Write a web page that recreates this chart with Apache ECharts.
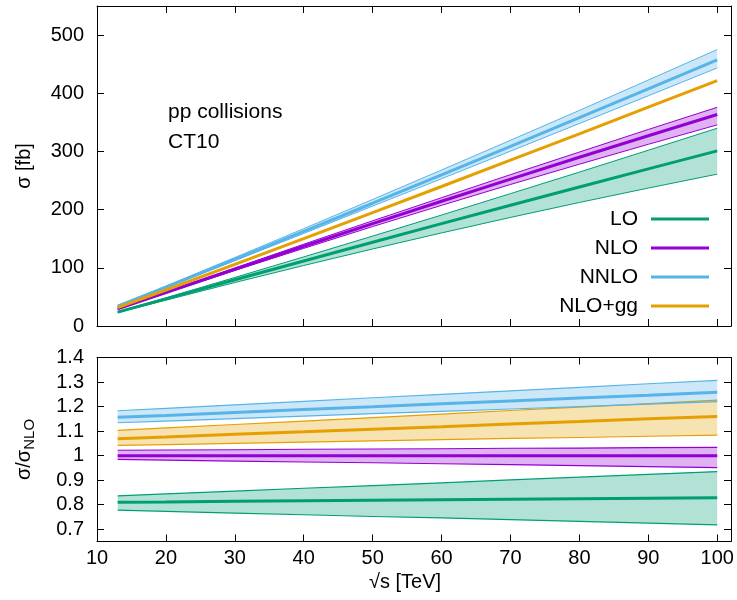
<!DOCTYPE html>
<html><head><meta charset="utf-8">
<script src="https://cdn.jsdelivr.net/npm/echarts@6/dist/echarts.min.js"></script>
<style>html,body{margin:0;padding:0;background:#fff}#c{width:737px;height:600px}</style>
</head><body><div id="c"></div>
<script>
// ---- data ----
const energies = [13, 20, 30, 40, 50, 60, 70, 80, 90, 100];
const xTicks = [10, 20, 30, 40, 50, 60, 70, 80, 90, 100];
const xsecTicks = [0, 100, 200, 300, 400, 500];
const ratioTicks = [0.7, 0.8, 0.9, 1, 1.1, 1.2, 1.3, 1.4];
const seriesNames = ['LO', 'NLO', 'NNLO', 'NLO+gg'];

// cross sections [fb]
const loXsec     = [23.9, 46.6, 79.4, 111.8, 144.0, 175.9, 207.6, 239.0, 270.1, 301.0];
const loXsecUp   = [24.7, 48.5, 83.4, 118.8, 154.5, 190.7, 227.5, 264.5, 302.1, 339.9];
const loXsecDn   = [23.0, 44.4, 74.7, 104.0, 132.4, 160.0, 186.6, 212.3, 237.1, 261.0];
const nloXsec    = [29.5, 57.5, 97.5, 137.0, 176.0, 214.5, 252.5, 290.0, 327.0, 363.5];
const nloXsecUp  = [30.1, 58.8, 99.8, 140.6, 180.8, 220.5, 260.1, 299.0, 337.8, 375.9];
const nloXsecDn  = [29.1, 56.5, 95.4, 133.4, 170.9, 207.4, 243.2, 278.1, 312.3, 345.7];
const nnloXsec   = [34.1, 66.9, 114.7, 162.8, 211.0, 259.8, 308.8, 358.2, 407.4, 457.3];
const nnloXsecUp = [34.9, 68.6, 117.7, 167.3, 217.5, 268.1, 319.2, 370.6, 422.8, 475.1];
const nnloXsecDn = [33.5, 65.6, 112.2, 159.1, 206.1, 253.1, 300.5, 348.0, 395.7, 443.5];
const ggXsec     = [31.5, 61.9, 106.0, 150.3, 195.0, 239.8, 285.1, 330.3, 376.1, 421.7];

// ratios to NLO
const loRatio     = [0.810, 0.811, 0.814, 0.816, 0.818, 0.820, 0.822, 0.824, 0.826, 0.828];
const loRatioUp   = [0.836, 0.844, 0.855, 0.867, 0.878, 0.889, 0.901, 0.912, 0.924, 0.935];
const loRatioDn   = [0.778, 0.773, 0.766, 0.759, 0.752, 0.746, 0.739, 0.732, 0.725, 0.718];
const nloRatio    = [1, 1, 1, 1, 1, 1, 1, 1, 1, 1];
const nloRatioUp  = [1.022, 1.023, 1.024, 1.026, 1.027, 1.028, 1.030, 1.031, 1.033, 1.034];
const nloRatioDn  = [0.985, 0.982, 0.978, 0.974, 0.971, 0.967, 0.963, 0.959, 0.955, 0.951];
const nnloRatio   = [1.156, 1.164, 1.176, 1.188, 1.199, 1.211, 1.223, 1.235, 1.246, 1.258];
const nnloRatioUp = [1.183, 1.193, 1.207, 1.221, 1.236, 1.250, 1.264, 1.278, 1.293, 1.307];
const nnloRatioDn = [1.134, 1.141, 1.151, 1.161, 1.171, 1.180, 1.190, 1.200, 1.210, 1.220];
const ggRatio     = [1.069, 1.076, 1.087, 1.097, 1.108, 1.118, 1.129, 1.139, 1.150, 1.160];
const ggRatioUp   = [1.103, 1.113, 1.127, 1.141, 1.155, 1.169, 1.184, 1.198, 1.212, 1.226];
const ggRatioDn   = [1.042, 1.045, 1.050, 1.055, 1.060, 1.065, 1.070, 1.074, 1.079, 1.084];

// ---- styling ----
const C = { LO: '#009e73', NLO: '#9400d3', NNLO: '#56b4e9', GG: '#e69f00' };
const FONT = '"Liberation Sans", Arial, sans-serif';
function rgba(hex, a) {
  const n = parseInt(hex.slice(1), 16);
  return `rgba(${n >> 16},${(n >> 8) & 255},${n & 255},${a})`;
}
function pairs(vals) { return energies.map((x, i) => [x, vals[i]]); }

function band(xi, yi, lower, upper, color, edgeW) {
  return {
    type: 'custom', xAxisIndex: xi, yAxisIndex: yi, z: 2, silent: true,
    data: [[energies[0], lower[0]]],
    renderItem(params, api) {
      const up = energies.map((x, i) => api.coord([x, upper[i]]));
      const lo = energies.map((x, i) => api.coord([x, lower[i]]));
      return { type: 'group', children: [
        { type: 'polygon', shape: { points: up.concat(lo.slice().reverse()) }, style: { fill: rgba(color, 0.3) } },
        { type: 'polyline', shape: { points: up }, style: { stroke: color, lineWidth: edgeW, fill: null } },
        { type: 'polyline', shape: { points: lo }, style: { stroke: color, lineWidth: edgeW, fill: null } }
      ] };
    }
  };
}
function line(name, xi, yi, vals, color) {
  return {
    type: 'line', name, xAxisIndex: xi, yAxisIndex: yi, z: 3, silent: true,
    data: pairs(vals), showSymbol: false, symbol: 'none', animation: false,
    itemStyle: { color }, lineStyle: { color, width: 3 }
  };
}
function ticks(vals) {
  return { show: true, inside: true, length: 7, customValues: vals, lineStyle: { color: '#000', width: 1 } };
}
function axis(extra) {
  return Object.assign({
    type: 'value',
    axisLine: { show: true, onZero: false, lineStyle: { color: '#000', width: 1 } },
    splitLine: { show: false },
    axisLabel: { show: false }
  }, extra);
}
const labelStyle = { show: true, color: '#000', fontFamily: FONT, fontSize: 20 };
const nameStyle = { color: '#000', fontFamily: FONT, fontSize: 20 };

const option = {
  animation: false,
  backgroundColor: '#fff',
  grid: [
    { left: 97, right: 6, top: 6, height: 320 },
    { left: 97, right: 6, top: 357.5, height: 184 }
  ],
  xAxis: [
    axis({ gridIndex: 0, position: 'bottom', min: 10, max: 102, axisTick: ticks(xTicks) }),
    axis({ gridIndex: 0, position: 'top', min: 10, max: 102, axisTick: ticks(xTicks) }),
    axis({ gridIndex: 1, position: 'bottom', min: 10, max: 102, axisTick: ticks(xTicks),
      axisLabel: Object.assign({ customValues: xTicks, margin: 7 }, labelStyle),
      name: '√s [TeV]', nameLocation: 'middle', nameGap: 31,
      nameTextStyle: Object.assign({ padding: [0, 18, 0, 0] }, nameStyle) }),
    axis({ gridIndex: 1, position: 'top', min: 10, max: 102, axisTick: ticks(xTicks) })
  ],
  yAxis: [
    axis({ gridIndex: 0, position: 'left', min: 0, max: 550, axisTick: ticks(xsecTicks),
      axisLabel: Object.assign({ customValues: xsecTicks, margin: 13 }, labelStyle),
      name: 'σ [fb]', nameLocation: 'middle', nameGap: 63, nameRotate: 90,
      nameTextStyle: nameStyle }),
    axis({ gridIndex: 0, position: 'right', min: 0, max: 550, axisTick: ticks(xsecTicks) }),
    axis({ gridIndex: 1, position: 'left', min: 0.65, max: 1.4, axisTick: ticks(ratioTicks),
      axisLabel: Object.assign({ customValues: ratioTicks, margin: 13 }, labelStyle),
      name: '{a|σ/σ}{b|NLO}', nameLocation: 'middle', nameGap: 60, nameRotate: 90,
      nameTextStyle: Object.assign({
        rich: { a: { fontFamily: FONT, fontSize: 20, color: '#000' }, b: { fontFamily: FONT, fontSize: 15, color: '#000', padding: [10, 0, 0, 0] } } }, nameStyle) }),
    axis({ gridIndex: 1, position: 'right', min: 0.65, max: 1.4, axisTick: ticks(ratioTicks) })
  ],
  legend: {
    orient: 'vertical', align: 'right', right: 28, top: 208, padding: 0,
    itemWidth: 58, itemHeight: 3, itemGap: 7, icon: 'rect',
    selectedMode: false,
    data: seriesNames,
    textStyle: { color: '#000', fontFamily: FONT, fontSize: 21, lineHeight: 22, padding: [0, 8, 0, 0] }
  },
  graphic: [
    { type: 'text', left: 168, top: 102, style: { text: 'pp collisions', fill: '#000', font: '21px ' + FONT } },
    { type: 'text', left: 168, top: 132, style: { text: 'CT10', fill: '#000', font: '21px ' + FONT } }
  ],
  series: [
    band(0, 0, loXsecDn, loXsecUp, C.LO, 1),
    band(0, 0, nloXsecDn, nloXsecUp, C.NLO, 1),
    band(0, 0, nnloXsecDn, nnloXsecUp, C.NNLO, 1),
    line('LO', 0, 0, loXsec, C.LO),
    line('NLO', 0, 0, nloXsec, C.NLO),
    line('NNLO', 0, 0, nnloXsec, C.NNLO),
    line('NLO+gg', 0, 0, ggXsec, C.GG),
    band(2, 2, loRatioDn, loRatioUp, C.LO, 1.2),
    band(2, 2, nloRatioDn, nloRatioUp, C.NLO, 1.2),
    band(2, 2, ggRatioDn, ggRatioUp, C.GG, 1.2),
    band(2, 2, nnloRatioDn, nnloRatioUp, C.NNLO, 1.2),
    line('LO', 2, 2, loRatio, C.LO),
    line('NLO', 2, 2, nloRatio, C.NLO),
    line('NNLO', 2, 2, nnloRatio, C.NNLO),
    line('NLO+gg', 2, 2, ggRatio, C.GG)
  ]
};
echarts.init(document.getElementById('c'), null, { renderer: 'canvas' }).setOption(option);
</script>
</body></html>
